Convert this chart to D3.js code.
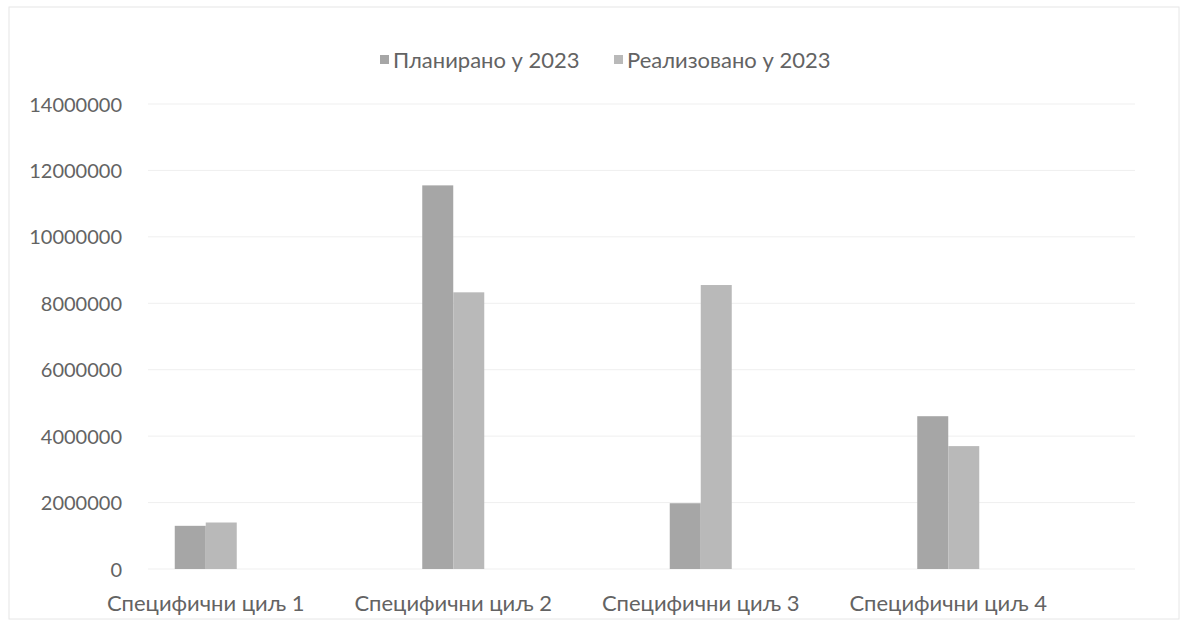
<!DOCTYPE html>
<html>
<head>
<meta charset="utf-8">
<script src="https://cdn.jsdelivr.net/npm/d3@7"></script>
<style>
  body { margin: 0; background: #fff; }
  text { font-family: Lato, "Open Sans", sans-serif; fill: #636363; }
</style>
</head>
<body>
<div id="chart"></div>
<script>
let width_chart = 1189;
let height_chart = 630;

const categories = ["Специфични циљ 1", "Специфични циљ 2", "Специфични циљ 3", "Специфични циљ 4"];
const series_names = ["Планирано у 2023", "Реализовано у 2023"];
const planned = [1300000, 11550000, 1980000, 4600000];
const realized = [1400000, 8330000, 8550000, 3700000];
const y_ticks = [0, 2000000, 4000000, 6000000, 8000000, 10000000, 12000000, 14000000];
const colors = ["#a6a6a6", "#b9b9b9"];

let svg = d3.select('#chart').append('svg')
    .attr('width', width_chart)
    .attr('height', height_chart);

// cadre du graphique
svg.append("rect")
    .attr("x", 9).attr("y", 7)
    .attr("width", 1170).attr("height", 612)
    .attr("fill", "none")
    .attr("stroke", "#e6e6e6");

var y = d3.scaleLinear().domain([0, 14000000]).range([569, 104]);
var x0 = d3.scaleBand().domain(categories).range([82, 1072]);
var x1 = d3.scaleBand().domain([0, 1]).range([0, 62]);

// lignes de grille
svg.append("g")
    .selectAll("line")
    .data(y_ticks)
    .enter().append("line")
    .attr("x1", 148).attr("x2", 1135)
    .attr("y1", d => y(d)).attr("y2", d => y(d))
    .attr("stroke", "#efefef")
    .attr("stroke-width", 1);

// axe Y
var yAxis = svg.append("g")
    .attr("transform", "translate(122,0)")
    .call(d3.axisLeft(y).tickValues(y_ticks).tickSize(0).tickPadding(0).tickFormat(d3.format("d")));
yAxis.select(".domain").remove();
yAxis.selectAll("text").style("font-size", "20px").attr("dy", "0.35em");

// barres
var rows = categories.map((c, i) => ({ cat: c, values: [planned[i], realized[i]] }));
var group = svg.selectAll(".grp")
    .data(rows)
    .enter().append("g")
    .attr("transform", d => "translate(" + (x0(d.cat) + x0.bandwidth() / 2 - 31) + ",0)");

group.selectAll("rect")
    .data(d => d.values.map((v, j) => ({ v: v, j: j })))
    .enter().append("rect")
    .attr("x", d => x1(d.j))
    .attr("y", d => y(d.v))
    .attr("width", x1.bandwidth())
    .attr("height", d => y(0) - y(d.v))
    .attr("fill", d => colors[d.j]);

// axe X
var xAxis = svg.append("g")
    .attr("transform", "translate(0,583)")
    .call(d3.axisBottom(x0).tickSize(0).tickPadding(12));
xAxis.select(".domain").remove();
xAxis.selectAll("text").style("font-size", "22px");

// légende
var legend = svg.append("g").attr("transform", "translate(380,60)");
var lx = [0, 234];
series_names.forEach(function (name, i) {
    legend.append("rect")
        .attr("x", lx[i]).attr("y", -5)
        .attr("width", 9).attr("height", 9)
        .attr("fill", colors[i]);
    legend.append("text")
        .attr("x", lx[i] + 13).attr("y", 0)
        .attr("dy", "0.35em")
        .style("font-size", "22px")
        .text(name);
});
</script>
</body>
</html>
